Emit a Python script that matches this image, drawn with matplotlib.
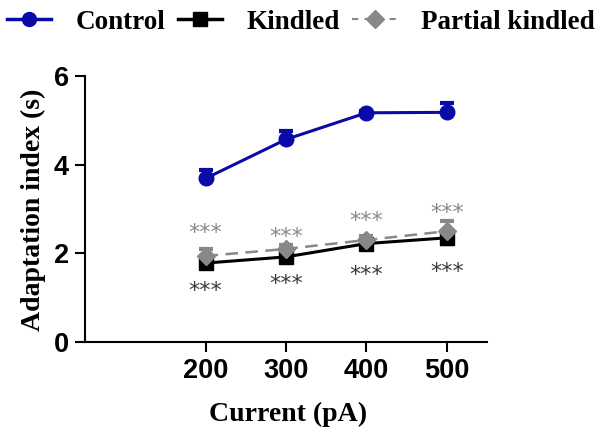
import matplotlib
matplotlib.use("Agg")
import matplotlib.pyplot as plt
from matplotlib.lines import Line2D
from matplotlib.transforms import offset_copy

current = [200, 300, 400, 500]
control = [3.69, 4.57, 5.17, 5.18]
control_err = [0.2, 0.2, 0.05, 0.2]
kindled = [1.78, 1.92, 2.22, 2.35]
kindled_err = [0.1, 0.08, 0.08, 0.15]
partial = [1.94, 2.1, 2.3, 2.5]
partial_err = [0.15, 0.08, 0.08, 0.22]
stars_up = [2.55, 2.46, 2.82, 3.0]
stars_down = [1.24, 1.4, 1.6, 1.68]

blue = "#0a0aa8"
gray = "#888888"

fig = plt.figure(figsize=(6.09, 4.34), dpi=100)
ax = fig.add_axes([85/609, (434-342)/434, (487-85)/609, (342-76)/434])

ax.errorbar(current, partial, yerr=[[0]*4, partial_err], color=gray, marker="D", ms=9,
            lw=1.8, ls=(0, (5, 3)), capsize=5, capthick=3, elinewidth=2, zorder=3)
ax.errorbar(current, kindled, yerr=[kindled_err, [0]*4], color="black", marker="s", ms=9.5,
            lw=2.2, capsize=5, capthick=3, elinewidth=2, zorder=2)
ax.errorbar(current, control, yerr=[[0]*4, control_err], color=blue, marker="o", ms=10.5,
            lw=2.2, capsize=5, capthick=3, elinewidth=2, zorder=4)

# asterisk glyph sits high above the baseline; shift so the data y is the glyph centre
star_tr = offset_copy(ax.transData, fig=fig, y=-7.3, units="points")
for x, y in zip(current, stars_up):
    ax.text(x, y, "***", color=gray, ha="center", va="baseline", fontsize=16,
            family="DejaVu Sans", transform=star_tr)
for x, y in zip(current, stars_down):
    ax.text(x, y, "***", color="#3a3a3a", ha="center", va="baseline", fontsize=16,
            family="DejaVu Sans", transform=star_tr)

ax.set_xlim(50, 550)
ax.set_ylim(0, 6)
ax.set_xticks(current)
ax.set_yticks([0, 2, 4, 6])
ax.spines["top"].set_visible(False)
ax.spines["right"].set_visible(False)
for s in ("left", "bottom"):
    ax.spines[s].set_linewidth(1.5)
ax.tick_params(width=1.5, length=7.5, labelsize=19.5, pad=4)
for lab in ax.get_xticklabels() + ax.get_yticklabels():
    lab.set_fontweight("bold")
    lab.set_family("Liberation Sans")

ax.set_xlabel("Current (pA)", family="Liberation Serif", fontweight="bold", fontsize=20, va="center")
ax.set_ylabel("Adaptation index (s)", family="Liberation Serif", fontweight="bold", fontsize=20, va="center")
ax.xaxis.set_label_coords(0.5 + (288 - 286) / 402, (342 - 414) / 266)
ax.yaxis.set_label_coords((33 - 85) / 402, (342 - 210) / 266)

handles = [
    Line2D([], [], color=blue, marker="o", ms=10, lw=2.5),
    Line2D([], [], color="black", marker="s", ms=10, lw=2.5),
    Line2D([], [], color=gray, marker="D", ms=9, lw=1.5, ls=(0, (3, 3))),
]
fig.legend(handles, ["Control", "Kindled", "Partial kindled"], loc="upper left",
           bbox_to_anchor=(0.0, 1.0 - 3/434), ncol=3, frameon=False, handlelength=1.65,
           columnspacing=0.45, handletextpad=0.9, borderaxespad=0, borderpad=0.25,
           prop={"family": "Liberation Serif", "weight": "bold", "size": 19.5})

fig.savefig("out.png", dpi=100)
